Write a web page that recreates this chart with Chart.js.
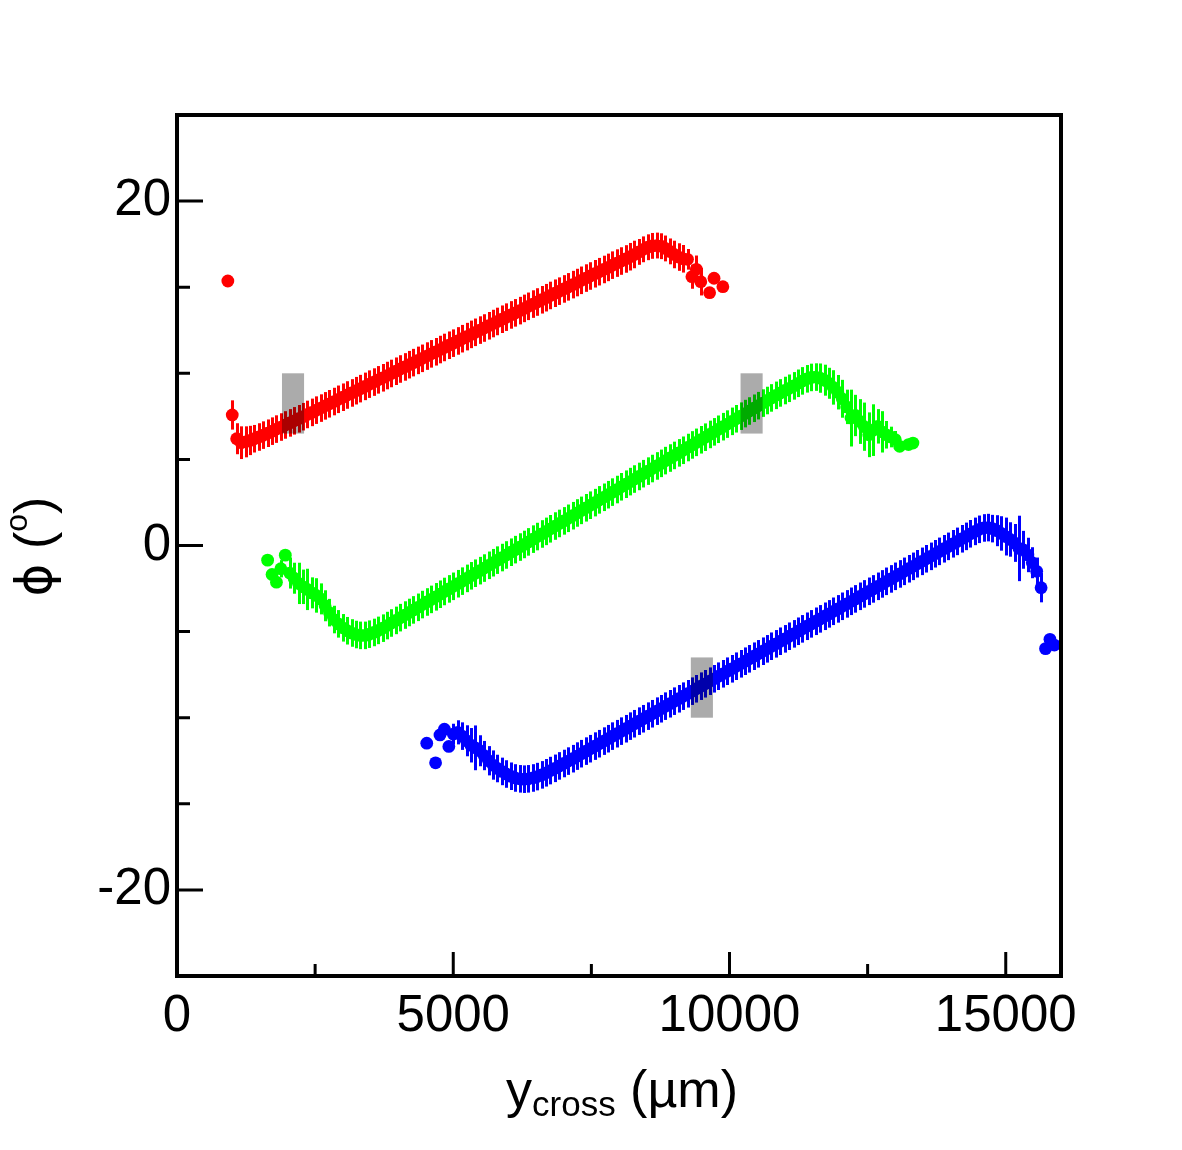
<!DOCTYPE html>
<html>
<head>
<meta charset="utf-8">
<script src="https://cdn.jsdelivr.net/npm/chart.js@4.4.1/dist/chart.umd.min.js"></script>
<style>
  html, body { margin: 0; padding: 0; background: #fff; }
  canvas { display: block; }
</style>
</head>
<body>
<canvas id="phiChart" width="1182" height="1150"></canvas>
<script>
// bin centres (um), phi values (deg) and errors

const redX = [920, 1000, 1080,
  1160, 1240, 1320, 1400, 1480, 1560, 1640, 1720, 1800, 1880,
  1960, 2040, 2120, 2200, 2280, 2360, 2440, 2520, 2600, 2680,
  2760, 2840, 2920, 3000, 3080, 3160, 3240, 3320, 3400, 3480,
  3560, 3640, 3720, 3800, 3880, 3960, 4040, 4120, 4200, 4280,
  4360, 4440, 4520, 4600, 4680, 4760, 4840, 4920, 5000, 5080,
  5160, 5240, 5320, 5400, 5480, 5560, 5640, 5720, 5800, 5880,
  5960, 6040, 6120, 6200, 6280, 6360, 6440, 6520, 6600, 6680,
  6760, 6840, 6920, 7000, 7080, 7160, 7240, 7320, 7400, 7480,
  7560, 7640, 7720, 7800, 7880, 7960, 8040, 8120, 8200, 8280,
  8360, 8440, 8520, 8600, 8680, 8760, 8840, 8920, 9000, 9080,
  9160, 9240, 9320, 9400, 9480, 9640, 9720, 9880];
const redY = [15.36, 7.58, 6.20,
  5.97, 6.02, 6.10, 6.20, 6.30, 6.41, 6.52, 6.64, 6.76, 6.88,
  7.00, 7.12, 7.24, 7.36, 7.48, 7.61, 7.73, 7.86, 7.98, 8.11,
  8.23, 8.36, 8.49, 8.61, 8.74, 8.86, 8.99, 9.11, 9.24, 9.37,
  9.49, 9.62, 9.74, 9.87, 9.99, 10.12, 10.25, 10.37, 10.50, 10.62,
  10.75, 10.87, 11.00, 11.13, 11.25, 11.38, 11.50, 11.63, 11.75, 11.88,
  12.01, 12.13, 12.26, 12.38, 12.51, 12.63, 12.76, 12.89, 13.01, 13.14,
  13.26, 13.39, 13.51, 13.64, 13.77, 13.89, 14.02, 14.14, 14.27, 14.39,
  14.52, 14.65, 14.77, 14.90, 15.02, 15.15, 15.27, 15.40, 15.53, 15.65,
  15.78, 15.90, 16.03, 16.15, 16.28, 16.40, 16.52, 16.64, 16.77, 16.90,
  17.05, 17.20, 17.32, 17.40, 17.42, 17.38, 17.25, 17.08, 16.90, 16.75,
  16.65, 16.62, 15.61, 16.04, 15.32, 14.68, 15.52, 15.03];
const redErr = [0.25, 0.85, 0.9,
  0.95, 0.9, 0.85, 0.8, 0.8, 0.8, 0.8, 0.8, 0.8, 0.8,
  0.8, 0.8, 0.8, 0.8, 0.8, 0.8, 0.8, 0.8, 0.8, 0.8,
  0.8, 0.8, 0.8, 0.8, 0.8, 0.8, 0.8, 0.8, 0.8, 0.8,
  0.8, 0.8, 0.8, 0.8, 0.8, 0.8, 0.8, 0.8, 0.8, 0.8,
  0.8, 0.8, 0.8, 0.8, 0.8, 0.8, 0.8, 0.8, 0.8, 0.8,
  0.8, 0.8, 0.8, 0.8, 0.8, 0.8, 0.8, 0.8, 0.8, 0.8,
  0.8, 0.8, 0.8, 0.8, 0.8, 0.8, 0.8, 0.8, 0.8, 0.8,
  0.8, 0.8, 0.8, 0.8, 0.8, 0.8, 0.8, 0.8, 0.8, 0.8,
  0.8, 0.8, 0.8, 0.8, 0.8, 0.8, 0.8, 0.8, 0.8, 0.8,
  0.75, 0.75, 0.75, 0.75, 0.75, 0.75, 0.75, 0.75, 0.8, 0.8,
  0.8, 0.6, 0.7, 0.8, 0.8, 0.25, 0.25, 0.25];

const greenX = [
  1640, 1720, 1800, 1880, 1960, 2040, 2120, 2200, 2280, 2360,
  2440, 2520, 2600, 2680, 2760, 2840, 2920, 3000, 3080, 3160,
  3240, 3320, 3400, 3480, 3560, 3640, 3720, 3800, 3880, 3960,
  4040, 4120, 4200, 4280, 4360, 4440, 4520, 4600, 4680, 4760,
  4840, 4920, 5000, 5080, 5160, 5240, 5320, 5400, 5480, 5560,
  5640, 5720, 5800, 5880, 5960, 6040, 6120, 6200, 6280, 6360,
  6440, 6520, 6600, 6680, 6760, 6840, 6920, 7000, 7080, 7160,
  7240, 7320, 7400, 7480, 7560, 7640, 7720, 7800, 7880, 7960,
  8040, 8120, 8200, 8280, 8360, 8440, 8520, 8600, 8680, 8760,
  8840, 8920, 9000, 9080, 9160, 9240, 9320, 9400, 9480, 9560,
  9640, 9720, 9800, 9880, 9960, 10040, 10120, 10200, 10280, 10360,
  10440, 10520, 10600, 10680, 10760, 10840, 10920, 11000, 11080, 11160,
  11240, 11320, 11400, 11480, 11560, 11640, 11720, 11800, 11880, 11960,
  12040, 12120, 12200, 12280, 12360, 12440, 12520, 12600, 12680, 12760,
  12840, 12920, 13000, 13080, 13240, 13320];
const greenY = [
  -0.85, -1.68, -2.13, -1.35, -0.56, -1.60, -1.90, -2.20, -2.40, -2.55,
  -2.75, -2.90, -3.10, -3.50, -3.90, -4.30, -4.55, -4.78, -4.95, -5.08,
  -5.17, -5.22, -5.22, -5.15, -5.05, -4.93, -4.80, -4.65, -4.50, -4.35,
  -4.19, -4.04, -3.89, -3.74, -3.59, -3.43, -3.28, -3.13, -2.98, -2.83,
  -2.67, -2.52, -2.37, -2.22, -2.07, -1.91, -1.76, -1.61, -1.46, -1.31,
  -1.15, -1.00, -0.85, -0.70, -0.55, -0.39, -0.24, -0.09, 0.06, 0.21,
  0.37, 0.52, 0.67, 0.82, 0.97, 1.13, 1.28, 1.43, 1.58, 1.73,
  1.89, 2.04, 2.19, 2.34, 2.49, 2.65, 2.80, 2.95, 3.10, 3.25,
  3.41, 3.56, 3.71, 3.86, 4.01, 4.17, 4.32, 4.47, 4.62, 4.77,
  4.93, 5.08, 5.23, 5.38, 5.53, 5.69, 5.84, 5.99, 6.14, 6.29,
  6.45, 6.60, 6.75, 6.90, 7.05, 7.21, 7.36, 7.51, 7.66, 7.81,
  7.97, 8.12, 8.27, 8.42, 8.57, 8.72, 8.86, 9.00, 9.13, 9.27,
  9.42, 9.56, 9.68, 9.76, 9.78, 9.72, 9.60, 9.42, 9.18, 8.90,
  8.52, 8.05, 7.40, 7.55, 7.20, 6.90, 6.43, 6.70, 6.92, 6.60,
  6.43, 6.30, 6.15, 5.76, 5.86, 5.95];
const greenErr = [
  0.25, 0.3, 0.3, 0.5, 0.3, 0.9, 0.9, 1.2, 1.0, 1.2,
  0.9, 1.0, 0.9, 0.9, 0.8, 0.8, 0.8, 0.8, 0.8, 0.8,
  0.8, 0.8, 0.8, 0.8, 0.8, 0.8, 0.8, 0.8, 0.8, 0.8,
  0.8, 0.8, 0.8, 0.8, 0.8, 0.8, 0.8, 0.8, 0.8, 0.8,
  0.8, 0.8, 0.8, 0.8, 0.8, 0.8, 0.8, 0.8, 0.8, 0.8,
  0.8, 0.8, 0.8, 0.8, 0.8, 0.8, 0.8, 0.8, 0.8, 0.8,
  0.8, 0.8, 0.8, 0.8, 0.8, 0.8, 0.8, 0.8, 0.8, 0.8,
  0.8, 0.8, 0.8, 0.8, 0.8, 0.8, 0.8, 0.8, 0.8, 0.8,
  0.8, 0.8, 0.8, 0.8, 0.8, 0.8, 0.8, 0.8, 0.8, 0.8,
  0.8, 0.8, 0.8, 0.8, 0.8, 0.8, 0.8, 0.8, 0.8, 0.8,
  0.8, 0.8, 0.8, 0.8, 0.8, 0.8, 0.8, 0.8, 0.8, 0.8,
  0.8, 0.8, 0.8, 0.8, 0.8, 0.8, 0.8, 0.8, 0.8, 0.8,
  0.8, 0.8, 0.8, 0.8, 0.8, 0.85, 0.9, 0.9, 1.0, 1.0,
  1.1, 1.0, 1.65, 1.2, 1.3, 1.4, 1.3, 1.5, 1.0, 1.2,
  0.8, 0.6, 0.5, 0.3, 0.2, 0.2];

const blueX = [4520, 4680,
  4760, 4840, 4920, 5000, 5080, 5160, 5240, 5320, 5400, 5480,
  5560, 5640, 5720, 5800, 5880, 5960, 6040, 6120, 6200, 6280,
  6360, 6440, 6520, 6600, 6680, 6760, 6840, 6920, 7000, 7080,
  7160, 7240, 7320, 7400, 7480, 7560, 7640, 7720, 7800, 7880,
  7960, 8040, 8120, 8200, 8280, 8360, 8440, 8520, 8600, 8680,
  8760, 8840, 8920, 9000, 9080, 9160, 9240, 9320, 9400, 9480,
  9560, 9640, 9720, 9800, 9880, 9960, 10040, 10120, 10200, 10280,
  10360, 10440, 10520, 10600, 10680, 10760, 10840, 10920, 11000, 11080,
  11160, 11240, 11320, 11400, 11480, 11560, 11640, 11720, 11800, 11880,
  11960, 12040, 12120, 12200, 12280, 12360, 12440, 12520, 12600, 12680,
  12760, 12840, 12920, 13000, 13080, 13160, 13240, 13320, 13400, 13480,
  13560, 13640, 13720, 13800, 13880, 13960, 14040, 14120, 14200, 14280,
  14360, 14440, 14520, 14600, 14680, 14760, 14840, 14920, 15000, 15080,
  15160, 15240, 15320, 15400, 15480, 15560, 15640, 15720, 15800, 15880];
const blueY = [-11.48, -12.62,
  -11.00, -10.67, -11.67, -10.95, -10.85, -11.07, -11.34, -11.60, -11.75, -11.92,
  -12.20, -12.50, -12.75, -12.95, -13.12, -13.27, -13.40, -13.50, -13.55, -13.57,
  -13.55, -13.50, -13.42, -13.32, -13.20, -13.07, -12.94, -12.80, -12.66, -12.52,
  -12.38, -12.23, -12.09, -11.94, -11.80, -11.65, -11.51, -11.36, -11.22, -11.07,
  -10.93, -10.78, -10.64, -10.49, -10.35, -10.20, -10.06, -9.91, -9.77, -9.62,
  -9.48, -9.33, -9.19, -9.04, -8.90, -8.75, -8.61, -8.46, -8.32, -8.17,
  -8.03, -7.88, -7.74, -7.59, -7.45, -7.30, -7.16, -7.01, -6.87, -6.72,
  -6.58, -6.43, -6.29, -6.14, -6.00, -5.85, -5.71, -5.56, -5.42, -5.27,
  -5.13, -4.98, -4.84, -4.69, -4.55, -4.40, -4.26, -4.11, -3.97, -3.82,
  -3.68, -3.53, -3.39, -3.24, -3.10, -2.95, -2.81, -2.66, -2.52, -2.37,
  -2.23, -2.08, -1.94, -1.79, -1.65, -1.50, -1.35, -1.21, -1.06, -0.92,
  -0.77, -0.63, -0.48, -0.34, -0.19, -0.05, 0.10, 0.24, 0.39, 0.53,
  0.68, 0.82, 0.94, 1.02, 1.04, 0.98, 0.86, 0.70, 0.52, 0.35,
  0.15, -0.17, -0.25, -0.55, -1.00, -1.50, -2.45, -5.99, -5.45, -5.78];
const blueErr = [0.2, 0.2,
  0.3, 0.3, 0.3, 0.6, 0.7, 0.8, 0.9, 1.0, 1.3, 0.9,
  0.85, 0.85, 0.85, 0.8, 0.8, 0.8, 0.8, 0.8, 0.8, 0.8,
  0.8, 0.8, 0.8, 0.8, 0.8, 0.8, 0.8, 0.8, 0.8, 0.8,
  0.8, 0.8, 0.8, 0.8, 0.8, 0.8, 0.8, 0.8, 0.8, 0.8,
  0.8, 0.8, 0.8, 0.8, 0.8, 0.8, 0.8, 0.8, 0.8, 0.8,
  0.8, 0.8, 0.8, 0.8, 0.8, 0.8, 0.8, 0.8, 0.8, 0.8,
  0.8, 0.8, 0.8, 0.8, 0.8, 0.8, 0.8, 0.8, 0.8, 0.8,
  0.8, 0.8, 0.8, 0.8, 0.8, 0.8, 0.8, 0.8, 0.8, 0.8,
  0.8, 0.8, 0.8, 0.8, 0.8, 0.8, 0.8, 0.8, 0.8, 0.8,
  0.8, 0.8, 0.8, 0.8, 0.8, 0.8, 0.8, 0.8, 0.8, 0.8,
  0.8, 0.8, 0.8, 0.8, 0.8, 0.8, 0.8, 0.8, 0.8, 0.8,
  0.8, 0.8, 0.8, 0.8, 0.8, 0.8, 0.8, 0.8, 0.8, 0.8,
  0.8, 0.8, 0.8, 0.8, 0.8, 0.8, 0.9, 1.0, 1.1, 1.0,
  1.1, 1.9, 1.1, 1.0, 0.9, 0.8, 0.85, 0.2, 0.2, 0.2];

// shaded boxes (x range um, y range deg)
const boxX0 = [1900, 10200, 9300];
const boxX1 = [2300, 10600, 9700];
const boxY0 = [6.5, 6.5, -10];
const boxY1 = [10, 10, -6.5];

const xMajorTicks = [0, 5000, 10000, 15000];
const xMinorTicks = [2500, 7500, 12500];
const yMajorTicks = [-20, 0, 20];
const yMinorTicks = [-15, -10, -5, 5, 10, 15];

const FONT = 'Liberation Sans, Arial, Helvetica, sans-serif';

function toPoints(xs, ys) {
    return xs.map((x, i) => ({ x: x, y: ys[i] }));
}

// vertical error bars, drawn under the markers of each graph
const errorBars = {
    id: 'errorBars',
    beforeDatasetDraw(chart, args) {
        const ds = chart.data.datasets[args.index];
        if (!ds.errors) return;
        const xs = chart.scales.x;
        const ys = chart.scales.y;
        const ctx = chart.ctx;
        ctx.save();
        ctx.strokeStyle = ds.backgroundColor;
        ctx.lineWidth = 3;
        ds.data.forEach((p, i) => {
            const px = Math.round(xs.getPixelForValue(p.x)) + 0.5;
            ctx.beginPath();
            ctx.moveTo(px, ys.getPixelForValue(p.y - ds.errors[i]));
            ctx.lineTo(px, ys.getPixelForValue(p.y + ds.errors[i]));
            ctx.stroke();
        });
        ctx.restore();
    }
};

// grey boxes, frame, inward ticks and axis titles
const decorations = {
    id: 'decorations',
    afterDatasetsDraw(chart) {
        const xs = chart.scales.x;
        const ys = chart.scales.y;
        const ctx = chart.ctx;
        ctx.save();
        ctx.fillStyle = 'rgba(0,0,0,0.33)';
        for (let i = 0; i < boxX0.length; i++) {
            const x0 = xs.getPixelForValue(boxX0[i]);
            const x1 = xs.getPixelForValue(boxX1[i]);
            const y0 = ys.getPixelForValue(boxY1[i]);
            const y1 = ys.getPixelForValue(boxY0[i]);
            ctx.fillRect(x0, y0, x1 - x0, y1 - y0);
        }
        ctx.restore();
    },
    afterDraw(chart) {
        const a = chart.chartArea;
        const xs = chart.scales.x;
        const ys = chart.scales.y;
        const ctx = chart.ctx;
        ctx.save();
        ctx.strokeStyle = '#000';
        ctx.lineWidth = 3;
        ctx.beginPath();
        xMajorTicks.forEach(v => {
            const px = xs.getPixelForValue(v);
            ctx.moveTo(px, a.bottom); ctx.lineTo(px, a.bottom - 24);
        });
        xMinorTicks.forEach(v => {
            const px = xs.getPixelForValue(v);
            ctx.moveTo(px, a.bottom); ctx.lineTo(px, a.bottom - 12);
        });
        yMajorTicks.forEach(v => {
            const py = ys.getPixelForValue(v);
            ctx.moveTo(a.left, py); ctx.lineTo(a.left + 26, py);
        });
        yMinorTicks.forEach(v => {
            const py = ys.getPixelForValue(v);
            ctx.moveTo(a.left, py); ctx.lineTo(a.left + 13, py);
        });
        ctx.stroke();

        ctx.lineWidth = 4;
        ctx.strokeRect(a.left, a.top, a.right - a.left, a.bottom - a.top);

        // x title: y_cross (um)
        ctx.fillStyle = '#000';
        ctx.textBaseline = 'alphabetic';
        ctx.textAlign = 'left';
        const big = '52px ' + FONT;
        const small = '35px ' + FONT;
        ctx.font = big;
        const wY = ctx.measureText('y').width;
        const wRest = ctx.measureText(' (\u00b5m)').width;
        ctx.font = small;
        const wSub = ctx.measureText('cross').width;
        let x = (a.left + a.right) / 2 + 3 - (wY + wSub + wRest) / 2;
        ctx.font = big;
        ctx.fillText('y', x, 1107);
        x += wY;
        ctx.font = small;
        ctx.fillText('cross', x, 1116);
        x += wSub;
        ctx.font = big;
        ctx.fillText(' (\u00b5m)', x, 1107);

        // y title: phi (o)
        ctx.translate(51, (a.top + a.bottom) / 2 + 1);
        ctx.rotate(-Math.PI / 2);
        const phiFont = '50px DejaVu Sans, ' + FONT;
        ctx.font = phiFont;
        const wPhi = ctx.measureText('\u03d5').width;
        ctx.font = big;
        const wOpen = ctx.measureText(' (').width;
        const wClose = ctx.measureText(')').width;
        ctx.font = '32px ' + FONT;
        const wO = ctx.measureText('o').width;
        let t = -(wPhi + wOpen + wO + wClose) / 2;
        ctx.font = phiFont;
        ctx.fillText('\u03d5', t, 0);
        t += wPhi;
        ctx.font = big;
        ctx.fillText(' (', t, 0);
        t += wOpen;
        ctx.font = '32px ' + FONT;
        ctx.fillText('o', t, -24);
        t += wO;
        ctx.font = big;
        ctx.fillText(')', t, 0);
        ctx.restore();
    }
};

function makeSet(xs, ys, errs, color) {
    return {
        data: toPoints(xs, ys),
        errors: errs,
        backgroundColor: color,
        borderColor: color,
        pointRadius: 6.4,
        pointHoverRadius: 6.4,
        pointBorderWidth: 0,
        showLine: false
    };
}

const config = {
    type: 'scatter',
    data: {
        datasets: [
            makeSet(redX, redY, redErr, '#ff0000'),
            makeSet(greenX, greenY, greenErr, '#00ff00'),
            makeSet(blueX, blueY, blueErr, '#0000ff')
        ]
    },
    options: {
        responsive: false,
        animation: false,
        devicePixelRatio: 1,
        layout: { padding: { top: 115, right: 121, left: 0, bottom: 0 } },
        plugins: {
            legend: { display: false },
            tooltip: { enabled: false }
        },
        scales: {
            x: {
                type: 'linear',
                min: 0,
                max: 16000,
                grid: { display: false, drawTicks: false },
                border: { display: false },
                afterBuildTicks: s => { s.ticks = xMajorTicks.map(v => ({ value: v })); },
                afterFit: s => { s.height = 174; },
                ticks: {
                    font: { family: FONT, size: 51 },
                    color: '#000',
                    padding: 10,
                    maxRotation: 0,
                    autoSkip: false,
                    callback: v => String(v)
                }
            },
            y: {
                type: 'linear',
                min: -25,
                max: 25,
                grid: { display: false, drawTicks: false },
                border: { display: false },
                afterBuildTicks: s => { s.ticks = yMajorTicks.map(v => ({ value: v })); },
                afterFit: s => { s.width = 177; },
                ticks: {
                    font: { family: FONT, size: 51 },
                    color: '#000',
                    padding: 6,
                    autoSkip: false,
                    callback: v => String(v)
                }
            }
        }
    },
    plugins: [errorBars, decorations]
};

const ctx = document.getElementById('phiChart').getContext('2d');
new Chart(ctx, config);
</script>
</body>
</html>
